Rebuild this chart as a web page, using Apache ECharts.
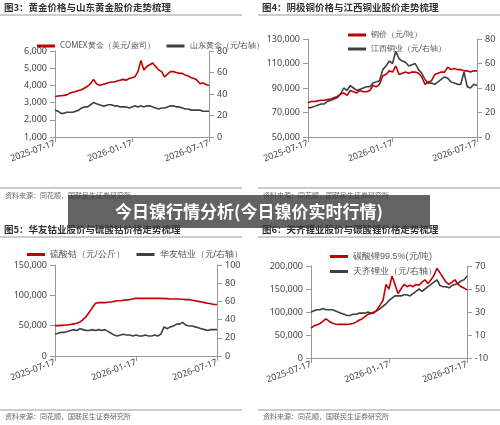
<!DOCTYPE html>
<html><head><meta charset="utf-8">
<script src="https://cdn.jsdelivr.net/npm/echarts@6/dist/echarts.min.js"></script>
<style>html,body{margin:0;padding:0;background:#fff}#c{width:500px;height:425px}</style>
</head><body><div id="c"></div>
<script>
var dateTicks=['2025-07-17','2026-01-17','2026-07-17'];
var c1Red=[3350,3380,3400,3420,3450,3550,3600,3650,3700,3750,3850,3950,4100,4350,4100,4000,4050,4100,4150,4200,4200,4250,4300,4350,4300,4400,4450,4500,4800,5450,4900,5100,5200,5300,5100,4900,4800,4500,4650,4800,4800,4750,4700,4700,4600,4550,4450,4400,4300,4100,4150,4050,4000];
var c1Gray=[25,24,22,22,23,23,23,24,25,27,28,28,30,32,31,30,29,29,30,30,29,29,28,28,28,27,28,29,28,29,28,29,29,28,27,26,27,27,28,29,29,28,28,27,26,26,25,25,25,25,24,24,24];
var c2Red=[78000,79000,79000,79500,80000,80000,80500,81000,82000,83000,85000,86000,84000,88000,87000,86000,88000,87000,87000,88000,92000,91000,93000,100000,101000,104000,103000,108000,101000,102000,103000,102000,103000,103000,102000,99000,93000,95000,96000,101000,102000,103000,103000,107000,105000,106000,105000,105000,104000,104000,103000,104000,104000];
var c2Gray=[24,24,25,26,27,27,29,30,31,32,35,40,38,42,40,38,39,40,41,41,44,45,46,55,58,62,60,70,64,62,61,58,59,60,55,52,47,44,44,43,45,47,49,48,45,44,43,43,53,41,40,43,42];
var c3Red=[50000,50000,50500,51000,51000,52000,53000,54000,56000,60000,65000,72000,80000,87000,88000,88000,88000,88500,89000,90000,91000,91000,92000,92500,93000,94000,95000,95000,95000,95000,95000,95000,95000,95000,95000,94500,94500,94000,94000,94000,93500,93500,93000,93000,92000,91000,90000,89000,88000,87000,86000,85000,85000];
var c3Gray=[24,25,26,26,27,28,29,28,30,29,28,28,29,28,29,28,29,27,25,23,22,23,24,23,23,22,23,22,22,23,22,22,23,22,24,32,30,32,33,35,35,37,34,33,33,32,31,30,29,28,29,29,29];
var c4Red=[65000,70000,72000,75000,80000,85000,80000,76000,74000,73000,73000,73000,73000,74000,75000,78000,82000,85000,90000,95000,97000,98000,105000,115000,125000,160000,150000,178000,160000,140000,150000,160000,155000,158000,155000,160000,158000,165000,170000,162000,170000,180000,195000,185000,175000,165000,160000,165000,170000,160000,155000,152000,148000];
var c4Gray=[30,31,32,32,33,32,32,32,31,30,29,28,27,27,28,28,29,29,29,30,29,30,31,33,35,37,40,42,44,44,44,45,45,44,46,48,50,48,50,52,54,56,58,53,52,52,51,53,54,55,57,58,61];
var names=[['COMEX黄金（美元/盎司）','山东黄金（元/右轴）'],['铜价（元/吨）','江西铜业（元/右轴）'],['硫酸钴（元/公斤）','华友钴业（元/右轴）'],['碳酸锂99.5%(元/吨)','天齐锂业（元/右轴）']];
var titles=['图3：黄金价格与山东黄金股价走势梳理','图4：阴极铜价格与江西铜业股价走势梳理','图5：华友钴业股价与硫酸钴价格走势梳理','图6：天齐锂业股价与碳酸锂价格走势梳理'];
var N=c1Red.length;
var cats=[];for(var i=0;i<N;i++){cats.push(i===0?dateTicks[0]:i===26?dateTicks[1]:i===N-1?dateTicks[2]:'d'+i);}
var RED='#c00000',GRAY='#404040';
var grids=[{left:55,width:154,top:51,height:86},{left:308,width:169,top:39,height:98},{left:55,width:162,top:265,height:91},{left:311,width:156,top:266,height:92}];
var lax=[[1000,6000,1000],[50000,130000,20000],[0,150000,50000],[0,200000,50000]];
var rax=[[0,80,20],[0,80,20],[0,100,20],[-10,70,20]];
var reds=[c1Red,c2Red,c3Red,c4Red],grays=[c1Gray,c2Gray,c3Gray,c4Gray];
var ax={lineStyle:{color:'#999'}};
var opt={animation:false,grid:[],xAxis:[],yAxis:[],series:[],legend:[],graphic:[]};
var fmt=function(v){return v.toLocaleString('en-US');};
for(var k=0;k<4;k++){
  opt.grid.push(grids[k]);
  opt.xAxis.push({type:'category',gridIndex:k,data:cats,boundaryGap:false,axisLine:ax,
    axisTick:{show:true,alignWithLabel:true,interval:function(i){return i===0||i===26||i===N-1;},lineStyle:{color:'#999'}},
    axisLabel:{interval:function(i){return i===0||i===26||i===N-1;},rotate:20,fontSize:9,color:'#444',margin:6,fontFamily:'Noto Sans'}});
  opt.yAxis.push({type:'value',gridIndex:k,min:lax[k][0],max:lax[k][1],interval:lax[k][2],splitLine:{show:false},axisLine:{show:true,lineStyle:{color:'#999'}},axisTick:{show:true,lineStyle:{color:'#999'}},axisLabel:{fontSize:9,color:'#444',formatter:fmt,fontFamily:'Noto Sans'}});
  opt.yAxis.push({type:'value',gridIndex:k,position:'right',min:rax[k][0],max:rax[k][1],interval:rax[k][2],splitLine:{show:false},axisLine:{show:true,lineStyle:{color:'#999'}},axisTick:{show:true,lineStyle:{color:'#999'}},axisLabel:{fontSize:9,color:'#444',fontFamily:'Noto Sans'}});
  opt.series.push({type:'line',name:names[k][0],xAxisIndex:k,yAxisIndex:2*k,data:reds[k],showSymbol:false,lineStyle:{color:RED,width:1.6},itemStyle:{color:RED},z:3});
  opt.series.push({type:'line',name:names[k][1],xAxisIndex:k,yAxisIndex:2*k+1,data:grays[k],showSymbol:false,lineStyle:{color:GRAY,width:1.6},itemStyle:{color:GRAY},z:2});
}
var lg=function(o){return Object.assign({icon:'rect',itemWidth:18,itemHeight:3,itemGap:12,textStyle:{fontSize:8,color:'#555',fontFamily:'Noto Sans'}},o);};
opt.legend=[lg({data:names[0],left:32,top:37}),lg({data:names[1],left:343,top:26,orient:'vertical',itemGap:6}),lg({data:names[2],left:22,top:245,textStyle:{fontSize:9,color:'#555'}}),lg({data:names[3],left:325,top:247,orient:'vertical',itemGap:6,textStyle:{fontSize:9,color:'#555'}})];
var pos=[[4,9,0,242,188,197],[262,9,258,500,188,197],[4,231,0,242,410,418],[262,231,258,500,410,418]];
pos.forEach(function(p,k){
  opt.graphic.push({type:'text',left:p[0],top:p[1]-6,style:{text:titles[k],font:'bold 9.5px "Noto Sans CJK SC"',fill:'#333'}});
  opt.graphic.push({type:'line',shape:{x1:p[2],y1:p[1]+6,x2:p[3],y2:p[1]+6},style:{stroke:'#999',lineWidth:1}});
  opt.graphic.push({type:'line',shape:{x1:p[2],y1:p[4],x2:p[3],y2:p[4]},style:{stroke:'#999',lineWidth:1}});
  opt.graphic.push({type:'text',left:p[0]+1,top:p[5]-5,style:{text:'资料来源：同花顺，国联民生证券研究所',font:'7px "Noto Sans CJK SC"',fill:'#666'}});
});
opt.graphic.push({type:'rect',shape:{x:68,y:195,width:362,height:33},style:{fill:'rgba(60,60,60,0.8)'},z:100});
opt.graphic.push({type:'text',x:249,y:212,style:{text:'今日镍行情分析(今日镍价实时行情)',font:'bold 17px "Noto Sans CJK SC"',fill:'#fff',align:'center',verticalAlign:'middle'},z:101});
echarts.init(document.getElementById('c')).setOption(opt);
</script></body></html>
